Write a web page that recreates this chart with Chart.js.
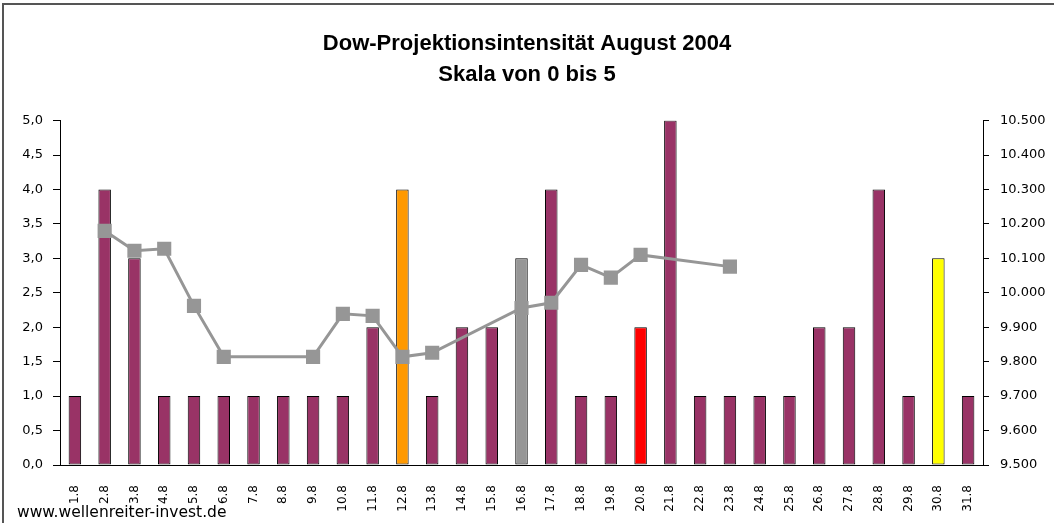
<!DOCTYPE html>
<html>
<head>
<meta charset="utf-8">
<title>Dow-Projektionsintensität August 2004</title>
<script src="https://cdn.jsdelivr.net/npm/chart.js"></script>
<style>
	html, body { margin: 0; padding: 0; background: #fff; }
	body { width: 1054px; height: 523px; overflow: hidden; position: relative; }
	.frame { position: absolute; left: 2px; top: 3px; width: 1100px; height: 600px; border: 2px solid #555; }
	#chartBox { position: absolute; left: 0; top: 0; width: 1054px; height: 523px; }
	.source { position: absolute; left: 17px; top: 503px; font: 15.5px "DejaVu Sans", sans-serif; color: #000; }
</style>
</head>
<body>
	<div class="frame"></div>
	<div id="chartBox"><canvas id="chart"></canvas></div>
	<div class="source">www.wellenreiter-invest.de</div>

<script>
	// Tage im August 2004
	var days = ["1.8", "2.8", "3.8", "4.8", "5.8", "6.8", "7.8", "8.8", "9.8", "10.8",
		"11.8", "12.8", "13.8", "14.8", "15.8", "16.8", "17.8", "18.8", "19.8", "20.8",
		"21.8", "22.8", "23.8", "24.8", "25.8", "26.8", "27.8", "28.8", "29.8", "30.8", "31.8"];

	// Projektionsintensitaet, Skala 0 bis 5
	var intensity = [1, 4, 3, 1, 1, 1, 1, 1, 1, 1,
		2, 4, 1, 2, 2, 3, 4, 1, 1, 2,
		5, 1, 1, 1, 1, 2, 2, 4, 1, 3, 1];

	// Dow Jones Schlusskurse (null = kein Wert)
	var dow = [null, 10180, 10122, 10128, 9962, 9814, null, null, 9814, 9939,
		9933, 9814, 9826, null, null, 9956, 9971, 10081, 10044, 10110,
		null, null, 10076, null, null, null, null, null, null, null, null];

	var leftTicks = [0, 0.5, 1, 1.5, 2, 2.5, 3, 3.5, 4, 4.5, 5];
	var rightTicks = [9500, 9600, 9700, 9800, 9900, 10000, 10100, 10200, 10300, 10400, 10500];

	// besondere Tage farbig markiert
	var specialColors = { "12.8": "#ff9900", "16.8": "#969696", "20.8": "#ff0000", "30.8": "#ffff00" };
	var barColors = days.map(function (d) { return specialColors[d] || "#993366"; });

	function fmtThousands(v) {
		var s = String(Math.round(v));
		return s.replace(/\B(?=(\d{3})+(?!\d))/g, ".");
	}

	var tickFont = { family: "'DejaVu Sans', sans-serif", size: 13 };

	var ctx = document.getElementById("chart").getContext("2d");
	var chart = new Chart(ctx, {
		type: "bar",
		data: {
			labels: days,
			datasets: [
				{
					type: "line",
					data: dow,
					yAxisID: "y1",
					order: 0,
					spanGaps: true,
					borderColor: "#969696",
					backgroundColor: "#969696",
					borderWidth: 3,
					pointStyle: "rect",
					pointRadius: 10,
					pointBorderWidth: 0,
					tension: 0,
				},
				{
					type: "bar",
					data: intensity,
					yAxisID: "y",
					order: 1,
					backgroundColor: barColors,
					borderColor: "#000",
					borderWidth: 1,
					borderSkipped: false,
					categoryPercentage: 1,
					barPercentage: 0.42,
				},
			],
		},
		options: {
			responsive: true,
			maintainAspectRatio: false,
			animation: false,
			layout: { padding: 0 },
			plugins: {
				legend: { display: false },
				tooltip: { enabled: false },
				title: {
					display: true,
					text: ["Dow-Projektionsintensität August 2004", "Skala von 0 bis 5"],
					color: "#000",
					font: { family: "'Liberation Sans', Arial, sans-serif", size: 22, weight: "bold", lineHeight: 1.4 },
					padding: { top: 29, bottom: 30 },
				},
			},
			scales: {
				x: {
					grid: { display: false },
					border: { display: true, color: "#000", width: 1 },
					ticks: {
						color: "#000",
						font: { family: "'DejaVu Sans', sans-serif", size: 12 },
						autoSkip: false,
						minRotation: 90,
						maxRotation: 90,
						padding: 12,
					},
					afterFit: function (scale) { scale.height = 58; },
				},
				y: {
					position: "left",
					min: 0,
					max: 5,
					afterBuildTicks: function (scale) {
						scale.ticks = leftTicks.map(function (v) { return { value: v }; });
					},
					grid: { drawOnChartArea: false, drawTicks: true, tickLength: 7, color: "#000" },
					border: { display: true, color: "#000", width: 1 },
					ticks: {
						color: "#000",
						font: tickFont,
						padding: 10,
						callback: function (v) { return v.toFixed(1).replace(".", ","); },
					},
					afterFit: function (scale) { scale.width = 60; },
				},
				y1: {
					position: "right",
					min: 9500,
					max: 10500,
					afterBuildTicks: function (scale) {
						scale.ticks = rightTicks.map(function (v) { return { value: v }; });
					},
					grid: { drawOnChartArea: false, drawTicks: true, tickLength: 6, color: "#000" },
					border: { display: true, color: "#000", width: 1 },
					ticks: {
						color: "#000",
						font: tickFont,
						padding: 11,
						callback: function (v) { return fmtThousands(v); },
					},
					afterFit: function (scale) { scale.width = 71; },
				},
			},
		},
	});
</script>
</body>
</html>
